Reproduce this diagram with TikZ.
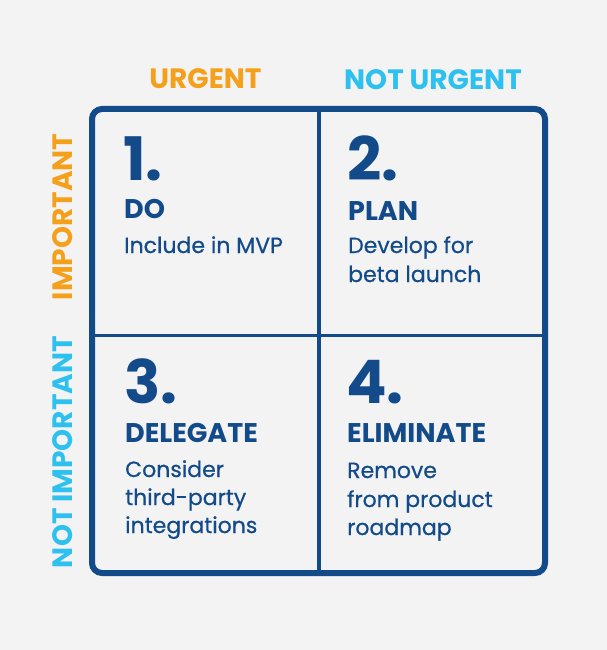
\documentclass[tikz,border=0pt]{standalone}
\usepackage{fontspec}
\setmainfont{Poppins}
\newfontfamily\bodyfont[FakeBold=0.6]{Poppins}
\definecolor{navy}{HTML}{124A8A}
\definecolor{orng}{HTML}{F5A01A}
\definecolor{sky}{HTML}{2EC0EE}
\definecolor{bg}{HTML}{F3F3F3}
\begin{document}
\begin{tikzpicture}[x=1pt,y=-1pt,
  hdr/.style={font=\fontsize{28}{30}\selectfont\bfseries, inner sep=0pt, anchor=base},
  num/.style={font=\fontsize{60}{60}\selectfont\bfseries, text=navy, inner sep=0pt, anchor=base west},
  ttl/.style={font=\fontsize{27}{28}\selectfont\bfseries, text=navy, inner sep=0pt, anchor=base west},
  txt/.style={font=\bodyfont\fontsize{22}{28}\selectfont, text=navy, inner sep=0pt, anchor=base west},
  frame/.style={draw=navy, line width=6pt, rounded corners=10pt},
  divider/.style={draw=navy, line width=3.5pt}]
\fill[bg] (0,0) rectangle (607,650);
\useasboundingbox (0,0) rectangle (607,650);
\draw[frame] (92,109) rectangle (545,573);
\coordinate (vt) at (319,109);
\coordinate (vb) at (319,573);
\coordinate (hl) at (92,335.5);
\coordinate (hr) at (545,335.5);
\draw[divider] (vt) -- (vb);
\draw[divider] (hl) -- (hr);
% headers
\node[hdr, text=orng] (urg) at (205.5,89) {URGENT};
\node[hdr, text=sky] (nurg) at (433,90) {NOT URGENT};
\node[hdr, text=orng, rotate=90] (imp) at (72,217) {IMPORTANT};
\node[hdr, text=sky, rotate=90] (nimp) at (72,452) {NOT IMPORTANT};
% Q1
\node[num] (n1) at (123,180) {1.};
\node[ttl] (t1) at (124,218) {DO};
\node[txt] (d1) at (124,253) {Include in MVP};
% Q2
\node[num] (n2) at (347,180) {2.};
\node[ttl] (t2) at (348,220) {PLAN};
\node[txt] (d2a) at (348,253) {Develop for};
\node[txt] (d2b) at (348,282) {beta launch};
% Q3
\node[num] (n3) at (124,403) {3.};
\node[ttl] (t3) at (125,442) {DELEGATE};
\node[txt] (d3a) at (125,477) {Consider};
\node[txt] (d3b) at (125,505) {third-party};
\node[txt] (d3c) at (125,533) {integrations};
% Q4
\node[num] (n4) at (346,403) {4.};
\node[ttl] (t4) at (347,442) {ELIMINATE};
\node[txt] (d4a) at (347,478) {Remove};
\node[txt] (d4b) at (347,507) {from product};
\node[txt] (d4c) at (347,535) {roadmap};
\end{tikzpicture}
\end{document}
